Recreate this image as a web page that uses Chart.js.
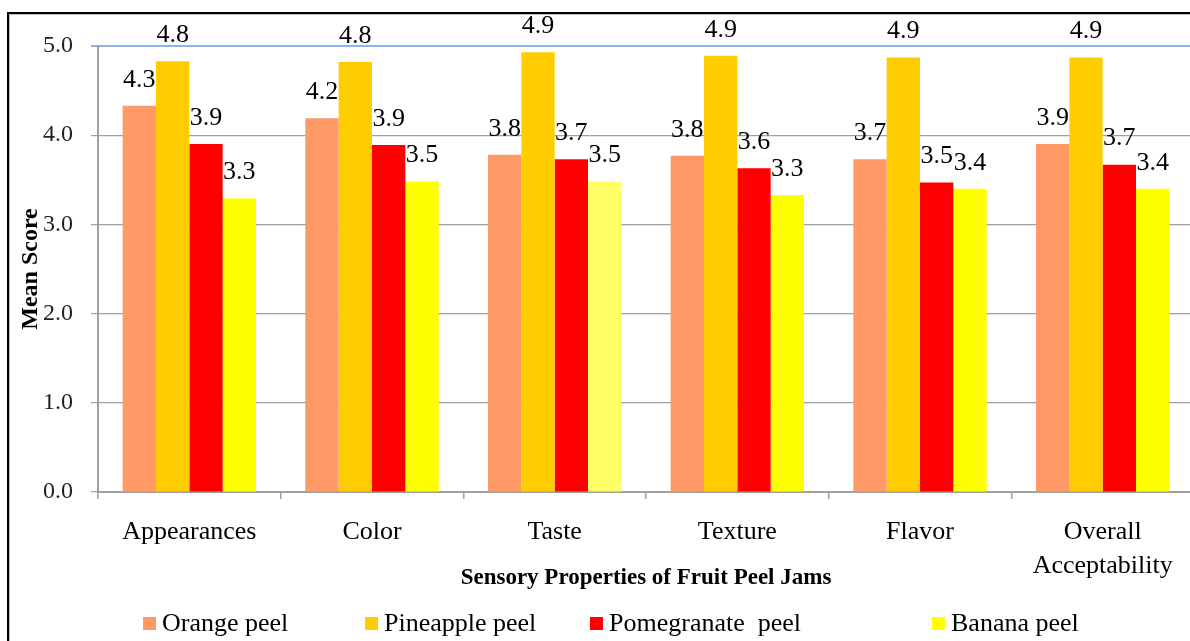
<!DOCTYPE html>
<html>
<head>
<meta charset="utf-8">
<script src="https://cdn.jsdelivr.net/npm/chart.js"></script>
<style>
  html, body { margin: 0; padding: 0; background: #fff; overflow: hidden; }
  #frame { position: absolute; left: 7px; top: 12px; width: 1300px; height: 700px;
           border-left: 2px solid #000; border-top: 2px solid #000; box-shadow: inset 1px 1px 0 #bbb; }
  #sharpBarChart { position: absolute; left: 0; top: 0; }
</style>
</head>
<body>
<div id="frame"></div>
<canvas id="sharpBarChart" width="1194" height="641"></canvas>
<script>
  // ข้อมูลของกราฟ
  const categories = ['Appearances', 'Color', 'Taste', 'Texture', 'Flavor', ['Overall', 'Acceptability']];
  const seriesNames = ['Orange peel', 'Pineapple peel', 'Pomegranate  peel', 'Banana peel'];
  const orangePeel = [4.33, 4.19, 3.78, 3.77, 3.73, 3.90];
  const pineapplePeel = [4.83, 4.82, 4.93, 4.89, 4.87, 4.87];
  const pomegranatePeel = [3.90, 3.89, 3.73, 3.63, 3.47, 3.67];
  const bananaPeel = [3.29, 3.48, 3.48, 3.33, 3.40, 3.40];
  const yTicks = [0, 1, 2, 3, 4, 5];

  const serif = "'Liberation Serif', 'Times New Roman', serif";

  // ตัวเลขเหนือแท่งกราฟ
  const barValues = {
    id: 'barValues',
    afterDatasetsDraw(chart) {
      const ctx = chart.ctx;
      ctx.save();
      ctx.font = '26px ' + serif;
      ctx.fillStyle = '#000';
      ctx.textAlign = 'center';
      ctx.textBaseline = 'middle';
      chart.data.datasets.forEach((ds, i) => {
        chart.getDatasetMeta(i).data.forEach((bar, j) => {
          ctx.fillText(ds.data[j].toFixed(1), bar.x, bar.y - 26);
        });
      });
      ctx.restore();
    }
  };

  // คำอธิบายด้านล่าง (วาดเอง)
  const bottomLegend = {
    id: 'bottomLegend',
    afterDraw(chart) {
      const ctx = chart.ctx;
      const xs = [143, 365, 590, 932];
      const y = 623;
      ctx.save();
      ctx.font = '26px ' + serif;
      ctx.textBaseline = 'middle';
      ctx.textAlign = 'left';
      chart.data.datasets.forEach((ds, i) => {
        ctx.fillStyle = ds.legendColor;
        ctx.fillRect(xs[i], y - 6, 13, 13);
        ctx.fillStyle = '#000';
        ctx.fillText(ds.label, xs[i] + 19, y + 1);
      });
      ctx.restore();
    }
  };

  const ctxBar = document.getElementById('sharpBarChart').getContext('2d');
  const chart = new Chart(ctxBar, {
    type: 'bar',
    data: {
      labels: categories,
      datasets: [
        { label: seriesNames[0], data: orangePeel, backgroundColor: '#FF9966', legendColor: '#FF9966' },
        { label: seriesNames[1], data: pineapplePeel, backgroundColor: '#FFCC00', legendColor: '#FFCC00' },
        { label: seriesNames[2], data: pomegranatePeel, backgroundColor: '#FF0000', legendColor: '#FF0000' },
        { label: seriesNames[3], data: bananaPeel,
          backgroundColor: ['#FFFF00', '#FFFF00', '#FFFF66', '#FFFF00', '#FFFF00', '#FFFF00'], legendColor: '#FFFF00' }
      ]
    },
    options: {
      responsive: false,
      animation: false,
      barPercentage: 1,
      categoryPercentage: 0.73,
      layout: { padding: { left: 12, top: 46, right: 0, bottom: 0 } },
      plugins: {
        legend: { display: false },
        tooltip: { enabled: false }
      },
      scales: {
        y: {
          min: 0,
          max: 5,
          afterFit(scale) { scale.width = 86; },
          afterBuildTicks(scale) { scale.ticks = yTicks.map(v => ({ value: v })); },
          ticks: {
            padding: 18,
            color: '#222',
            font: { family: serif, size: 24 },
            callback: v => Number(v).toFixed(1)
          },
          grid: {
            tickLength: 7,
            color: c => (c.tick && c.tick.value === 5 ? '#8DB4E2' : '#A0A0A0'),
            lineWidth: c => (c.tick && c.tick.value === 5 ? 2 : 1.2)
          },
          border: { color: '#A0A0A0', width: 2 },
          title: {
            display: true,
            text: 'Mean Score',
            color: '#000',
            font: { family: serif, size: 24, weight: 'bold' },
            padding: { top: 4, bottom: 0 }
          }
        },
        x: {
          afterFit(scale) { scale.height = 149; },
          ticks: {
            padding: 16,
            color: '#000',
            font: { family: serif, size: 26, lineHeight: 1.3 }
          },
          grid: { drawOnChartArea: false, tickLength: 7, color: '#A0A0A0', lineWidth: 1.5 },
          border: { color: '#A0A0A0', width: 2 },
          title: {
            display: true,
            text: 'Sensory Properties of Fruit Peel Jams',
            color: '#000',
            font: { family: serif, size: 23, weight: 'bold', lineHeight: 1.2 },
            padding: { top: 0, bottom: 49 }
          }
        }
      }
    },
    plugins: [barValues, bottomLegend]
  });
</script>
</body>
</html>
